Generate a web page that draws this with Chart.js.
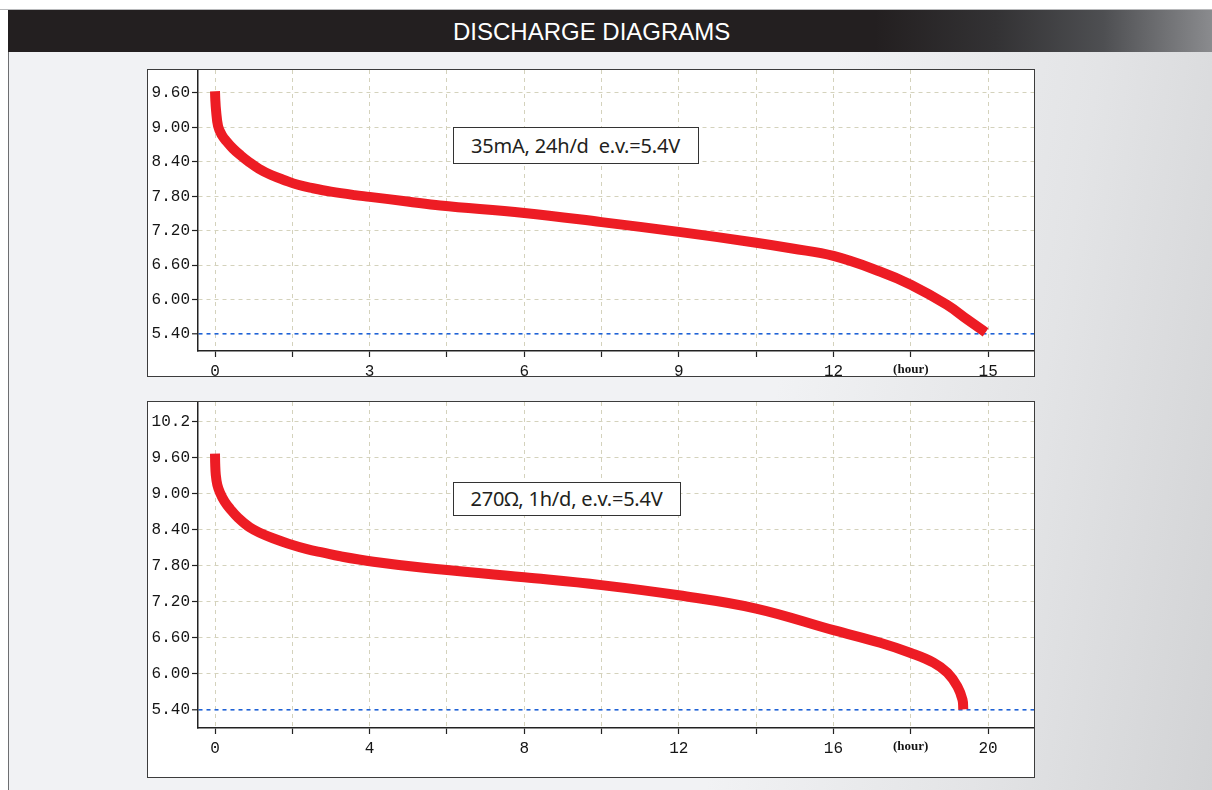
<!DOCTYPE html>
<html>
<head>
<meta charset="utf-8">
<script src="https://cdn.jsdelivr.net/npm/chart.js@4.4.1/dist/chart.umd.min.js"></script>
<style>
html, body { margin: 0; padding: 0; }
body {
    width: 1212px; height: 790px; position: relative; overflow: hidden;
    background: #ffffff;
}
#topline { position: absolute; left: 0; top: 9px; width: 1212px; height: 1px; background: #b8b9bb; }
#header {
    position: absolute; left: 8px; top: 10px; width: 1204px; height: 42px;
    background: linear-gradient(to right, #231f20 0%, #231f20 72%, #333234 82%, #4e4f52 91%, #8a8b8e 100%);
}
#header span {
    position: absolute; left: 445px; top: 8px;
    font-family: "Liberation Sans", Arial, sans-serif; font-size: 24px; color: #ffffff;
}
#panel {
    position: absolute; left: 8px; top: 52px; width: 1204px; height: 738px;
    border-left: 1.5px solid #6d6e71; box-sizing: border-box;
    background: linear-gradient(100deg, #f1f2f4 0%, #f1f2f4 62%, #e3e4e6 82%, #d2d3d5 100%);
}
.box {
    position: absolute; left: 146.5px; width: 886px;
    border: 1.5px solid #3c3c3c; background: #ffffff;
}
.box canvas { position: absolute; left: 0; top: 0; }
.note {
    position: absolute; background: #ffffff; border: 1px solid #333333;
    font-family: "Noto Sans", "Open Sans", sans-serif; font-size: 20px; color: #231f20;
    box-sizing: border-box; white-space: pre; text-align: center; letter-spacing: -0.2px;
}
</style>
</head>
<body>
<div id="topline"></div>
<div id="header"><span>DISCHARGE DIAGRAMS</span></div>
<div id="panel"></div>

<div class="box" style="top:68.5px;height:306px;">
    <canvas id="chart1" width="886" height="306"></canvas>
    <div class="note" style="left:305px;top:57px;width:246px;height:37px;line-height:35px;">35mA, 24h/d  e.v.=5.4V</div>
</div>
<div class="box" style="top:400.5px;height:375px;">
    <canvas id="chart2" width="886" height="375"></canvas>
    <div class="note" style="left:305px;top:80px;width:228px;height:34px;line-height:32px;">270Ω, 1h/d, e.v.=5.4V</div>
</div>

<script>
// 35mA, 24h/d
let hours1 = [0, 0.005, 0.02, 0.06, 0.13, 0.22, 0.35, 0.5, 0.64, 0.85, 1.09, 1.35, 1.61, 1.9, 2.25, 2.71, 3.0, 3.73, 4.37, 6.0, 7.5, 9.0, 10.5, 11.2, 12.0, 12.9, 13.5, 14.2, 14.6, 14.95]
let volts1 = [9.63, 9.50, 9.30, 9.02, 8.87, 8.76, 8.63, 8.51, 8.41, 8.28, 8.17, 8.08, 8.00, 7.94, 7.88, 7.82, 7.79, 7.71, 7.64, 7.51, 7.35, 7.18, 6.99, 6.89, 6.76, 6.49, 6.26, 5.91, 5.65, 5.43]
let xTicks1 = [0, 1.5, 3, 4.5, 6, 7.5, 9, 10.5, 12, 13.5, 15]
let xLabels1 = ['0', '', '3', '', '6', '', '9', '', '12', '(hour)', '15']
let yTicks1 = [5.4, 6.0, 6.6, 7.2, 7.8, 8.4, 9.0, 9.6]
let yLabels1 = ['5.40', '6.00', '6.60', '7.20', '7.80', '8.40', '9.00', '9.60']

// 270 ohm, 1h/d
let hours2 = [0, 0.005, 0.02, 0.06, 0.13, 0.25, 0.39, 0.6, 0.9, 1.2, 1.5, 1.9, 2.38, 2.8, 3.24, 4.1, 5.4, 8.0, 10.0, 12.0, 14.0, 16.0, 17.21, 18.0, 18.59, 18.95, 19.21, 19.34, 19.36]
let volts2 = [9.67, 9.50, 9.32, 9.15, 9.02, 8.87, 8.75, 8.60, 8.44, 8.34, 8.26, 8.17, 8.08, 8.02, 7.96, 7.87, 7.77, 7.61, 7.48, 7.31, 7.09, 6.73, 6.52, 6.35, 6.19, 6.02, 5.79, 5.57, 5.41]
let xTicks2 = [0, 2, 4, 6, 8, 10, 12, 14, 16, 18, 20]
let xLabels2 = ['0', '', '4', '', '8', '', '12', '', '16', '(hour)', '20']
let yTicks2 = [5.4, 6.0, 6.6, 7.2, 7.8, 8.4, 9.0, 9.6, 10.2]
let yLabels2 = ['5.40', '6.00', '6.60', '7.20', '7.80', '8.40', '9.00', '9.60', '10.2']

let endVoltage = 5.4

function drawChart(id, hours, volts, xTicks, xLabels, yTicks, yLabels, xMin, xMax, yMin, yMax, xAxisHeight) {
    let points = hours.map((h, i) => ({x: h, y: volts[i]}))
    let ctx = document.getElementById(id).getContext('2d')
    return new Chart(ctx, {
        type: 'scatter',
        data: {
            datasets: [{
                data: points,
                showLine: true,
                borderColor: '#ed1c24',
                borderWidth: 10,
                pointRadius: 0,
                tension: 0.4
            }]
        },
        options: {
            responsive: false,
            animation: false,
            layout: {padding: 0},
            plugins: {legend: {display: false}, tooltip: {enabled: false}},
            scales: {
                x: {
                    type: 'linear',
                    min: xMin,
                    max: xMax,
                    afterBuildTicks: scale => { scale.ticks = xTicks.map(v => ({value: v})) },
                    afterFit: scale => { scale.height = xAxisHeight; scale.paddingLeft = 0; scale.paddingRight = 0 },
                    ticks: {
                        autoSkip: false,
                        maxRotation: 0,
                        padding: 5,
                        color: '#151515',
                        callback: (value, index) => xLabels[index],
                        font: c => xLabels[c.index] === '(hour)'
                            ? {family: '"Liberation Serif", serif', size: 13, weight: 'bold'}
                            : {family: '"Liberation Mono", monospace', size: 16}
                    },
                    grid: {
                        color: '#d4d2bc',
                        lineWidth: 1,
                        tickColor: '#222222',
                        tickWidth: 1.2,
                        tickLength: 6
                    },
                    border: {display: true, color: '#222222', width: 1.5, dash: [4, 4]}
                },
                y: {
                    type: 'linear',
                    min: yMin,
                    max: yMax,
                    afterBuildTicks: scale => { scale.ticks = yTicks.map(v => ({value: v})) },
                    afterFit: scale => { scale.width = 50; scale.paddingTop = 0; scale.paddingBottom = 0 },
                    ticks: {
                        autoSkip: false,
                        padding: 2,
                        color: '#151515',
                        callback: (value, index) => yLabels[index],
                        font: {family: '"Liberation Mono", monospace', size: 16}
                    },
                    grid: {
                        color: c => (c.tick && c.tick.value === endVoltage) ? '#1f62d6' : '#d4d2bc',
                        lineWidth: c => (c.tick && c.tick.value === endVoltage) ? 1.6 : 1,
                        tickColor: '#222222',
                        tickWidth: 1.2,
                        tickLength: 6
                    },
                    border: {display: true, color: '#222222', width: 1.5, dash: [4, 4]}
                }
            }
        }
    })
}

drawChart('chart1', hours1, volts1, xTicks1, xLabels1, yTicks1, yLabels1, -0.33, 15.89, 5.104, 10.0, 25)
drawChart('chart2', hours2, volts2, xTicks2, xLabels2, yTicks2, yLabels2, -0.44, 21.19, 5.10, 10.53, 49)
</script>
</body>
</html>
